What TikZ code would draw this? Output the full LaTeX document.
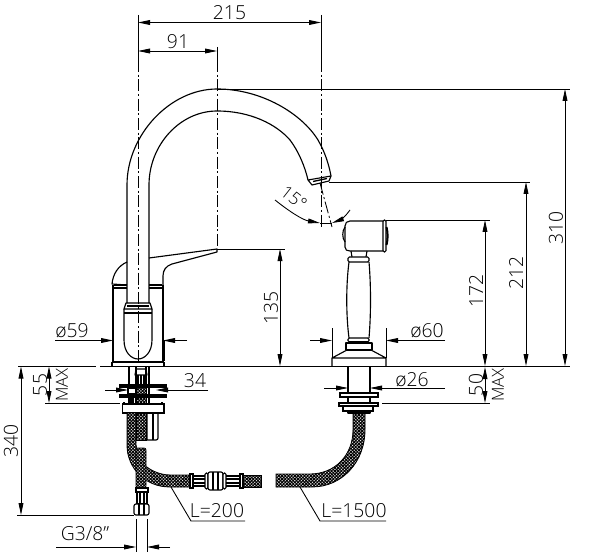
\documentclass[tikz,border=0pt]{standalone}
\usepackage{fontspec}
\setmainfont{Open Sans Light}
\usetikzlibrary{arrows.meta,patterns.meta}
\tikzset{
  part/.style={line width=0.85pt,draw=black,line join=round},
  thin part/.style={line width=0.6pt,draw=black},
  heavy/.style={line width=1.5pt,draw=black},
  dim/.style={line width=0.65pt,draw=black},
  axis/.style={line width=0.65pt,draw=black,dash pattern=on 9pt off 2pt on 1.5pt off 2pt},
  tip/.style={-{Triangle[length=9pt,width=3.6pt]}},
  tips/.style={{Triangle[length=9pt,width=3.6pt]}-{Triangle[length=9pt,width=3.6pt]}},
  lab/.style={font=\fontsize{14.5}{14.5}\selectfont,inner sep=0pt},
  slab/.style={font=\fontsize{12.5}{12.5}\selectfont,inner sep=0pt},
  hose/.style={line width=0.6pt,draw=black,fill=white,
    preaction={fill=white},
    postaction={pattern={Lines[angle=45,distance=1.7pt,line width=.8pt]}},
    postaction={pattern={Lines[angle=-45,distance=1.7pt,line width=.8pt]}}},
  plate/.style={line width=0.85pt,draw=black,fill=white}
}
\begin{document}
\begin{tikzpicture}[x=0.75pt,y=-0.75pt]
\useasboundingbox (0,0) rectangle (600,556);
% spout
\draw[part] (127,303) -- (127,185) .. controls (127,135) and (170,89) .. (217,89)
  .. controls (262,89) and (302,114) .. (318,140) .. controls (325,152) and (329,165) .. (331,176);
\draw[part] (149,303) -- (149,185) .. controls (149,145) and (180,111) .. (217,111)
  .. controls (250,111) and (276,124) .. (290,140) .. controls (299,152) and (305,167) .. (308,180);
\draw[part] (308,180) -- (331,176) -- (329,181) -- (312,185) -- cycle;
\draw[line width=1pt] (313,181.5) -- (327,178.5);
% lever
\draw[part] (149,258) -- (217,249) -- (217,252) -- (172,264) .. controls (166,266) and (163,270) .. (163,276) -- (163,285);
\draw[part] (127,262) .. controls (118,266) and (113,274) .. (112,284) -- (127,285);
% body
\draw[part] (113,285) -- (113,362) -- (163,362) -- (163,285);
\draw[part] (113,288) -- (127,288) (149,288) -- (163,288);
\draw[part] (114,285) -- (127,285) (149,285) -- (162,285);
\draw[heavy] (113,340) -- (113,361) (163.5,340) -- (163.5,361);
\draw[part] (112,362) -- (112,366) (164,362) -- (164,366);
\draw[part] (126,303) -- (150,303) -- (152,309) -- (124,309) -- cycle;
\draw[part] (127,306) -- (149,306);
\draw[heavy] (124,313) -- (152,313);
\draw[part] (124,309) -- (124,340) .. controls (124,352) and (131,359) .. (138,359) .. controls (145,359) and (152,352) .. (152,340) -- (152,309);
% lower mount left
\draw[heavy] (128.5,367) -- (128.5,404) (149,367) -- (149,404);
\draw[part] (136,367) -- (136,404) (146,367) -- (146,404);
\draw[part] (136,369) -- (146,369) -- (147,375) -- (135,375) -- cycle;
\draw[part] (138,375) -- (138,385) (141,375) -- (141,385) (144,375) -- (144,385);
\draw[hose] (136,387) rectangle (146,394);
\draw[hose] (136,397) rectangle (146,404);
\draw[part,fill=white] (128,388) rectangle (136,394);
\draw[part] (128,397) -- (136,397) (131,397) -- (131,404) (133,397) -- (133,404);
\draw[plate] (120,385) rectangle (166,387);
\draw[plate] (120,395) rectangle (166,397);
\draw[plate] (122.5,404) rectangle (164,413);
\draw[part] (124,404) -- (124,402) (162,404) -- (162,402);
% body beside hoses
\draw[part] (147,413) -- (147,440) -- (156,440) .. controls (157.5,440) and (158,439) .. (158,438) -- (158,413);
\draw[part] (153,413) -- (153,440);
% hoses left
\draw[hose] (127,413) -- (127,445) .. controls (127,468) and (145,487) .. (170,487) -- (190,487) -- (190,475) -- (170,475) .. controls (160,475) and (147,470) .. (140,460) -- (136,445) -- (136,413) -- cycle;
\draw[hose] (136,413) -- (136,440) -- (146,440) -- (146,413) -- cycle;
\draw[hose,rounded corners=1.5pt] (136,488) -- (136,448) -- (146,448) -- (146,488) -- cycle;
% bottom fitting
\draw[plate] (136,488) rectangle (148,492);
\draw[part] (137,492) -- (137,504) -- (147,504) -- (147,492);
\draw[heavy] (140,492) -- (140,504) (144,492) -- (144,504);
\draw[plate,rounded corners=1.5pt] (134,504) rectangle (149,515);
\draw[part] (139,504) -- (139,515) (144,504) -- (144,515);
% horizontal fitting
\draw[plate] (190,474) rectangle (193,488);
\draw[part] (193,476) -- (205,476) (193,486) -- (205,486);
\draw[heavy] (193,479) -- (205,479) (193,483) -- (205,483);
\draw[plate,rounded corners=1pt] (205,473) rectangle (208,489);
\draw[plate,rounded corners=1.5pt] (208,472) rectangle (223,490);
\draw[part] (213,472) -- (213,490) (218,472) -- (218,490);
\draw[plate,rounded corners=1pt] (223,473) rectangle (226,489);
\draw[part] (226,476) -- (240,476) (226,486) -- (240,486);
\draw[heavy] (226,479) -- (240,479) (226,483) -- (240,483);
\draw[plate] (240,474) rectangle (243,488);
\draw[hose] (243,475) rectangle (261,487);
% right hose
\draw[hose] (353,413) -- (353,430) .. controls (353,455) and (335,474) .. (310,474) -- (276,474) -- (276,487) -- (312,487) .. controls (342,487) and (365,462) .. (365,430) -- (365,413) -- cycle;
% right mount
\draw[heavy] (348,367) -- (348,403) (370,367) -- (370,403);
\draw[plate] (340,393) rectangle (378,397);
\draw[plate] (339,403) rectangle (378,406);
\draw[plate] (343,406) rectangle (373,411);
\draw[part,fill=black!55] (348,411) rectangle (370,413);
% spray handle
\draw[part] (350,221) -- (383,221) (350,221) .. controls (347,221) and (345,223) .. (345,226) -- (345,247) .. controls (345,250) and (347,251) .. (350,251) -- (383,251);
\draw[part] (345,227) .. controls (342,231) and (342,238) .. (345,242);
\draw[part,rounded corners=1pt] (383,220) rectangle (386,252);
\draw[heavy] (386.5,227) .. controls (388,233) and (388,239) .. (386.5,245);
\draw[part] (351,251) -- (352,257) (367,251) -- (366,257);
\draw[part,rounded corners=1pt] (348,257) rectangle (369,262);
\draw[part] (349,262) .. controls (346,285) and (346,315) .. (349,338);
\draw[part] (369,262) .. controls (371,285) and (371,315) .. (369,338);
\draw[part,rounded corners=1pt] (348,338) rectangle (369,342);
\draw[heavy] (349,342) -- (368,342);
\draw[part] (346,350) -- (346,343) -- (372,343) -- (372,350);
\draw[part] (346,350) -- (372,350);
\draw[part] (347,350) -- (332,358) -- (332,366) (371,350) -- (386,358) -- (386,366) (332,358) -- (386,358);
% bench line
\draw[dim] (18,366.5) -- (96,366.5) (100,366.5) -- (570,366.5);
% axes
\draw[axis] (138,60) -- (138,362);
\draw[axis] (217,60) -- (217,249);
\draw[axis] (321,60) -- (321,228);
\draw[axis] (320,183) -- (332,227);
% 215, 91
\draw[dim] (138,15) -- (138,60) (321,15) -- (321,60) (217,47) -- (217,60);
\node[lab] (d215) at (229.5,13) {215};
\draw[dim,tips] (138,22.5) -- (321,22.5);
\node[lab] (d91) at (178,42) {91};
\draw[dim,tips] (138,51) -- (217,51);
% 310, 212, 172, 135
\coordinate (top) at (217,89);
\coordinate (topr) at (570,89);
\draw[dim] (top) -- (topr);
\draw[dim,tips] (565,89) -- (565,366);
\node[lab,rotate=90] (d310) at (556,228) {310};
\draw[dim] (329,182) -- (530,182);
\draw[dim,tips] (526,182) -- (526,366);
\node[lab,rotate=90] (d212) at (516,273) {212};
\draw[dim] (386,220) -- (490,220);
\draw[dim,tips] (485,220) -- (485,366);
\node[lab,rotate=90] (d172) at (476,291) {172};
\draw[dim] (217,249) -- (285,249);
\draw[dim,tips] (280,249) -- (280,366);
\node[lab,rotate=90] (d135) at (271,308) {135};
% 50 MAX
\draw[dim] (382,403) -- (490,403);
\draw[dim,tips] (485,367) -- (485,403);
\node[lab,rotate=90] (d50) at (476,385) {50};
\node[slab,rotate=90] (m50) at (498,385) {MAX};
% 55 MAX / 340
\draw[dim] (45,403) -- (120,403);
\draw[dim,tips] (49,366.5) -- (49,403);
\node[lab,rotate=90] (d55) at (40,385) {55};
\node[slab,rotate=90] (m55) at (62,385) {MAX};
\draw[dim] (17,515) -- (134,515);
\draw[dim,tips] (21,366.5) -- (21,515);
\node[lab,rotate=90] (d340) at (11,441) {340};
% G3/8
\node[lab] (g38) at (85,534) {G3/8”};
\draw[dim] (56,547) -- (125,547);
\draw[dim,tip] (112,547) -- (136,547);
\draw[dim,tip] (170,547) -- (147,547);
\draw[dim] (136,519) -- (136,552) (147,519) -- (147,552);
% phi 59
\node[lab] (d59) at (72,331) {ø59};
\draw[dim,tip] (55,340.5) -- (113,340.5);
\draw[dim,tip] (187,340.5) -- (163,340.5);
% phi 60
\node[lab] (d60) at (427,331) {ø60};
\draw[dim,tip] (310,340.5) -- (332,340.5);
\draw[dim,tip] (445,340.5) -- (386,340.5);
\draw[dim] (332,328) -- (332,358) (386,328) -- (386,358);
% phi 26
\node[lab] (d26) at (412,380) {ø26};
\draw[dim,tip] (324,388) -- (348,388);
\draw[dim,tip] (445,388) -- (370,388);
% 34
\node[lab] (d34) at (195,381) {34};
\draw[dim,tip] (105,390) -- (128,390);
\draw[dim,tip] (208,390) -- (156,390);
% 15 deg
\node[lab,rotate=-38,font=\fontsize{13}{13}\selectfont] (d15) at (294,198) {15°};
\draw[dim,tip] (275,200) .. controls (290,212) and (303,220) .. (320,223);
\draw[dim,tip] (350,210) .. controls (346,216) and (340,220) .. (332,223);
\draw[dim] (320,223) -- (332,223);
% L=200, L=1500
\node[lab] (l200) at (217,511) {L=200};
\draw[dim] (171,487) -- (191,521) -- (245,521);
\node[lab] (l1500) at (354,511) {L=1500};
\draw[dim] (300,487) -- (320,521) -- (386,521);
\end{tikzpicture}
\end{document}
